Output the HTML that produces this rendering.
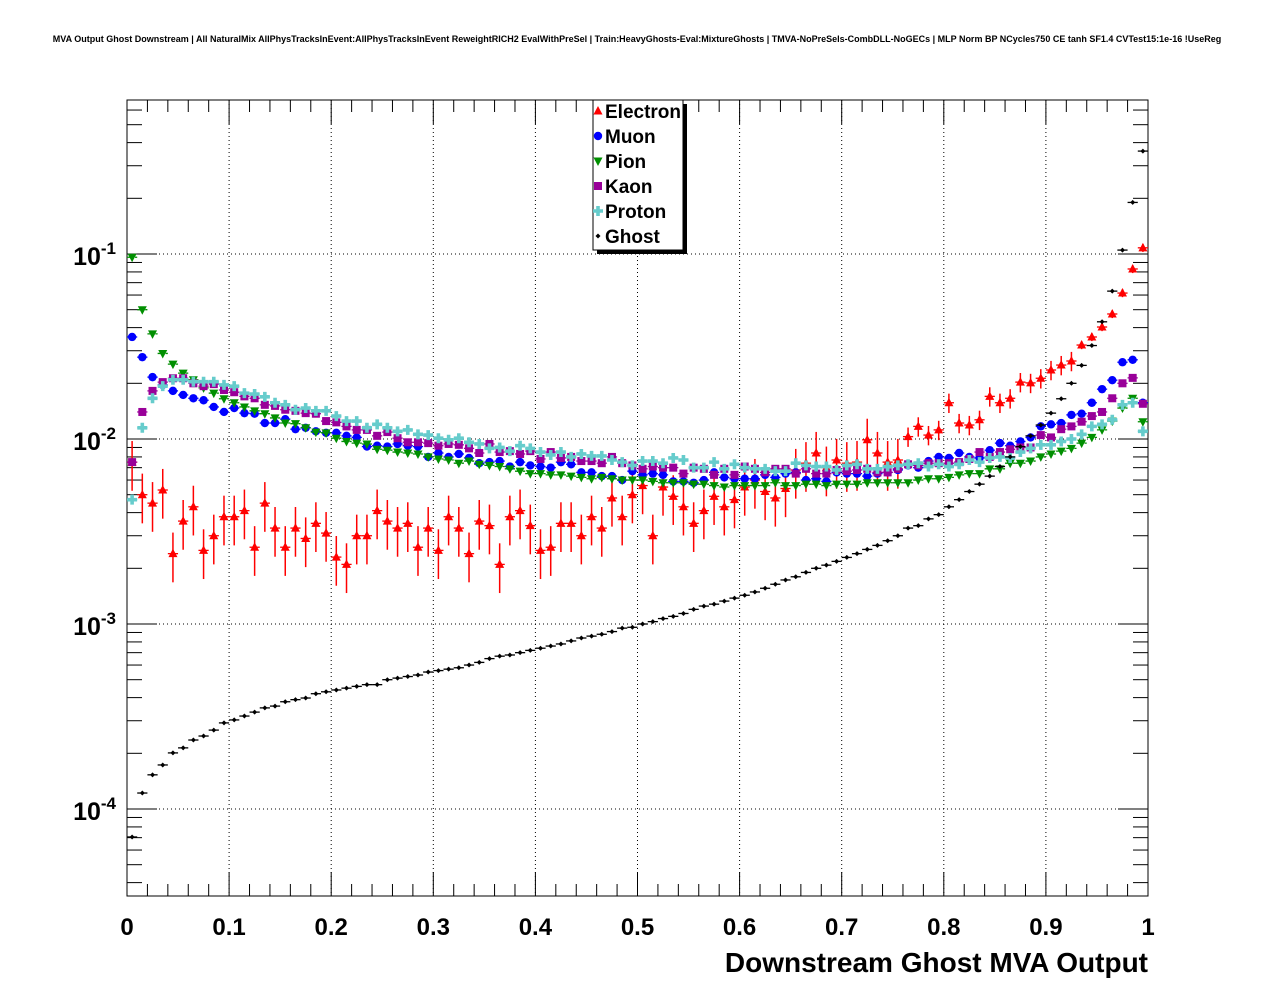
<!DOCTYPE html>
<html><head><meta charset="utf-8"><style>
body{margin:0;background:#fff}
svg text{font-family:"Liberation Sans",sans-serif;font-weight:bold}
</style></head><body>
<svg id="c" width="1276" height="996" xmlns="http://www.w3.org/2000/svg">
<text x="637" y="42" font-size="9.0" text-anchor="middle">MVA Output Ghost Downstream | All NaturalMix AllPhysTracksInEvent:AllPhysTracksInEvent ReweightRICH2 EvalWithPreSel | Train:HeavyGhosts-Eval:MixtureGhosts | TMVA-NoPreSels-CombDLL-NoGECs | MLP Norm BP NCycles750 CE tanh SF1.4 CVTest15:1e-16 !UseReg</text>
<rect x="127" y="100" width="1021" height="796" fill="none" stroke="#000" stroke-width="1"/>
<g id="grid"></g>
<g id="ticks"></g>
<g id="marks"></g>
<text x="1148" y="972" font-size="28" text-anchor="end">Downstream Ghost MVA Output</text>
<g>
<rect x="597" y="104" width="90" height="150" fill="#000"/>
<rect x="593" y="100" width="90" height="150" fill="#fff" stroke="#000"/>
<g id="leg"></g>
</g>
</svg>
<script>
const xTicks=["0","0.1","0.2","0.3","0.4","0.5","0.6","0.7","0.8","0.9","1"];
const yDecades=[-4,-3,-2,-1];
const electron=[0.0075,0.005,0.0045,0.0053,0.0024,0.0036,0.0043,0.0025,0.003,0.0038,0.0038,0.0041,0.0026,0.0045,0.0033,0.0026,0.0033,0.0029,0.0035,0.0031,0.0023,0.0021,0.003,0.003,0.0041,0.0036,0.0033,0.0035,0.0026,0.0033,0.0025,0.0038,0.0033,0.0024,0.0036,0.0034,0.0021,0.0038,0.0041,0.0034,0.0025,0.0026,0.0035,0.0035,0.003,0.0038,0.0033,0.0048,0.0038,0.005,0.0056,0.003,0.0055,0.0049,0.0043,0.0035,0.0041,0.0049,0.0043,0.0047,0.0055,0.006,0.0052,0.0048,0.0054,0.0068,0.0074,0.0084,0.007,0.0077,0.0074,0.0075,0.0099,0.0084,0.0075,0.0077,0.0103,0.0117,0.0105,0.0112,0.0157,0.0122,0.0119,0.0127,0.017,0.0157,0.0166,0.0203,0.0201,0.0213,0.0236,0.0251,0.0264,0.0322,0.0356,0.0403,0.0474,0.0615,0.083,0.108];
const muon=[0.0356,0.0277,0.0216,0.0196,0.0182,0.0173,0.0166,0.0162,0.0149,0.014,0.0147,0.0138,0.0137,0.0122,0.0122,0.0128,0.0113,0.0115,0.011,0.0108,0.0108,0.0104,0.0102,0.0091,0.0092,0.0091,0.0094,0.0092,0.0091,0.008,0.0084,0.008,0.0083,0.0079,0.0074,0.0075,0.0076,0.0071,0.0075,0.0072,0.0071,0.007,0.0075,0.0073,0.0066,0.0066,0.0063,0.0063,0.006,0.0067,0.0064,0.0065,0.0064,0.0059,0.0059,0.0058,0.006,0.0066,0.0062,0.0061,0.0061,0.0061,0.0064,0.0062,0.0065,0.0066,0.006,0.0061,0.0059,0.0066,0.0065,0.0065,0.0063,0.0065,0.0066,0.0068,0.0072,0.007,0.0076,0.008,0.0079,0.0084,0.008,0.0079,0.0087,0.0095,0.0092,0.0097,0.0102,0.0117,0.012,0.0122,0.0135,0.0137,0.0157,0.0186,0.0208,0.026,0.0268,0.0157];
const pion=[0.096,0.05,0.037,0.029,0.0254,0.0227,0.0209,0.0189,0.0177,0.0165,0.0157,0.0149,0.0142,0.0137,0.013,0.0122,0.0121,0.0115,0.0109,0.0108,0.0101,0.0097,0.0095,0.0094,0.0088,0.0087,0.0085,0.0084,0.0083,0.008,0.0078,0.0077,0.0074,0.0076,0.0073,0.0072,0.0071,0.0069,0.0067,0.0065,0.0065,0.0064,0.0064,0.0063,0.0062,0.0061,0.0062,0.0061,0.006,0.006,0.006,0.0059,0.0058,0.0058,0.0058,0.0057,0.0057,0.0056,0.0055,0.0056,0.0056,0.0056,0.0056,0.0058,0.0056,0.0056,0.0057,0.0057,0.0056,0.0057,0.0057,0.0057,0.0058,0.0058,0.0058,0.0058,0.0058,0.006,0.0061,0.0061,0.0062,0.0064,0.0065,0.0065,0.0069,0.0069,0.0074,0.0074,0.0076,0.008,0.0083,0.0086,0.0089,0.0095,0.0102,0.0112,0.0125,0.0147,0.0166,0.0124];
const kaon=[0.0075,0.014,0.0182,0.0203,0.0213,0.0213,0.02,0.0193,0.0198,0.0184,0.0179,0.017,0.0166,0.0153,0.0151,0.0144,0.0142,0.0138,0.0137,0.0125,0.0123,0.0117,0.0112,0.0112,0.0104,0.0109,0.0101,0.0096,0.0096,0.0095,0.0092,0.0094,0.0093,0.0089,0.0084,0.0094,0.0085,0.0086,0.0083,0.0086,0.0078,0.0085,0.0079,0.008,0.0076,0.0076,0.0074,0.008,0.0074,0.0072,0.0069,0.0071,0.007,0.007,0.0065,0.007,0.0069,0.0064,0.0069,0.0064,0.0071,0.0069,0.0066,0.0069,0.0069,0.0065,0.0069,0.0065,0.0065,0.0068,0.0067,0.0068,0.0069,0.0066,0.0066,0.0069,0.0073,0.0072,0.0074,0.0074,0.0074,0.0075,0.0078,0.0085,0.008,0.0085,0.0088,0.009,0.009,0.0105,0.0102,0.0113,0.0117,0.0124,0.0133,0.014,0.0166,0.02,0.0214,0.0155];
const proton=[0.0047,0.0115,0.0166,0.0193,0.0209,0.0209,0.0204,0.0204,0.0204,0.0196,0.0193,0.0177,0.0175,0.0169,0.0157,0.0153,0.0144,0.0147,0.0142,0.0142,0.0133,0.0125,0.0125,0.0115,0.012,0.0115,0.011,0.0112,0.0106,0.0105,0.0101,0.0099,0.0101,0.0096,0.0094,0.0089,0.009,0.0086,0.0092,0.0089,0.0085,0.0082,0.0085,0.008,0.0083,0.0081,0.0081,0.0077,0.0075,0.0072,0.0076,0.0076,0.0074,0.0079,0.0077,0.007,0.007,0.0075,0.0069,0.0073,0.007,0.0069,0.0069,0.0067,0.0067,0.0074,0.0072,0.0071,0.0071,0.0068,0.0072,0.0073,0.0069,0.0069,0.0071,0.0072,0.0073,0.0074,0.0071,0.0073,0.0071,0.0073,0.0077,0.0075,0.0079,0.008,0.0079,0.0085,0.0089,0.0093,0.0093,0.0097,0.01,0.0106,0.0117,0.012,0.0127,0.0153,0.0157,0.011];
const ghost=[7.06e-5,1.22e-4,1.53e-4,1.73e-4,2.01e-4,2.14e-4,2.36e-4,2.48e-4,2.67e-4,2.92e-4,3.03e-4,3.18e-4,3.34e-4,3.52e-4,3.6e-4,3.8e-4,3.9e-4,3.98e-4,4.2e-4,4.3e-4,4.4e-4,4.5e-4,4.6e-4,4.7e-4,4.7e-4,5.0e-4,5.1e-4,5.2e-4,5.3e-4,5.5e-4,5.6e-4,5.7e-4,5.8e-4,6.0e-4,6.2e-4,6.5e-4,6.7e-4,6.8e-4,7.0e-4,7.2e-4,7.4e-4,7.6e-4,7.8e-4,8.1e-4,8.4e-4,8.6e-4,8.8e-4,9.1e-4,9.5e-4,9.6e-4,1.0e-3,1.03e-3,1.07e-3,1.1e-3,1.14e-3,1.2e-3,1.25e-3,1.28e-3,1.33e-3,1.38e-3,1.43e-3,1.49e-3,1.56e-3,1.64e-3,1.73e-3,1.8e-3,1.9e-3,2.0e-3,2.08e-3,2.18e-3,2.29e-3,2.4e-3,2.53e-3,2.66e-3,2.82e-3,3.0e-3,3.3e-3,3.4e-3,3.7e-3,3.9e-3,4.3e-3,4.7e-3,5.2e-3,5.7e-3,6.3e-3,7.1e-3,8.0e-3,9.1e-3,1.04e-2,1.19e-2,1.38e-2,1.65e-2,2.0e-2,2.5e-2,3.2e-2,4.3e-2,6.3e-2,0.105,0.19,0.36];
const seriesNames=["Electron","Muon","Pion","Kaon","Proton","Ghost"];
const seriesData=[electron,muon,pion,kaon,proton,ghost];
const seriesColors=["#ff0000","#0000ff","#008f00","#990099","#66cccc","#000000"];
const shapes=["tri","circ","tridown","sq","cross","dot"];

const NS="http://www.w3.org/2000/svg";
const X0=127,X1=1148,YT=100,YB=896;
const xs=v=>X0+(X1-X0)*v;
const ys=v=>254-(Math.log10(v)+1)*185;
function mk(tag,attrs,parent){const e=document.createElementNS(NS,tag);for(const k in attrs)e.setAttribute(k,attrs[k]);parent.appendChild(e);return e;}
const grid=document.getElementById('grid'),ticks=document.getElementById('ticks'),marks=document.getElementById('marks');
const svg=document.getElementById('c');
xTicks.forEach((t,i)=>{const x=xs(i/10);
 if(i>0&&i<10){const l=mk('line',{x1:x,x2:x,y1:YT,y2:YB,stroke:'#000','stroke-dasharray':'1,3'},grid);}
 const tx=mk('text',{x:x,y:935,'font-size':24,'text-anchor':'middle'},svg);tx.textContent=t;
 
});
for(let i=0;i<=50;i++){const x=xs(i/50);const len=i%5==0?24:12;
 mk('line',{x1:x,x2:x,y1:YB,y2:YB-len,stroke:'#000'},ticks);mk('line',{x1:x,x2:x,y1:YT,y2:YT+len,stroke:'#000'},ticks);}
yDecades.forEach(d=>{const y=ys(Math.pow(10,d));
 const l=mk('line',{x1:X0,x2:X1,y1:y,y2:y,stroke:'#000','stroke-dasharray':'1,3'},grid);
 
 const tx=mk('text',{x:116,y:y+11,'font-size':25,'text-anchor':'end'},svg);
 
 tx.innerHTML='10<tspan dy="-11" font-size="17">'+d+'</tspan>';
});
for(let d=-5;d<=0;d++)for(let m=1;m<=9;m++){const y=ys(m*Math.pow(10,d));if(y<YT||y>YB)continue;const len=m==1?30:15;
 mk('line',{x1:X0,x2:X0+len,y1:y,y2:y,stroke:'#000'},ticks);mk('line',{x1:X1,x2:X1-len,y1:y,y2:y,stroke:'#000'},ticks);}
function marker(shape,x,y,c,g){
 if(shape=='tri')mk('polygon',{points:`${x},${y-5} ${x-4.5},${y+3.5} ${x+4.5},${y+3.5}`,fill:c},g);
 else if(shape=='tridown')mk('polygon',{points:`${x},${y+5} ${x-4.5},${y-3.5} ${x+4.5},${y-3.5}`,fill:c},g);
 else if(shape=='circ')mk('circle',{cx:x,cy:y,r:4.2,fill:c},g);
 else if(shape=='sq')mk('rect',{x:x-4,y:y-4,width:8,height:8,fill:c},g);
 else if(shape=='cross')mk('path',{d:`M${x-1.8},${y-5}h3.6v3.2h3.2v3.6h-3.2v3.2h-3.6v-3.2h-3.2v-3.6h3.2z`,fill:c},g);
 else mk('path',{d:`M${x},${y-2.5}L${x+2.5},${y}L${x},${y+2.5}L${x-2.5},${y}z`,fill:c},g);
}
const bw=(X1-X0)/100;
seriesData.forEach((arr,si)=>{
 const g=mk('g',{},marks);
 
 
 const c=seriesColors[si];
 arr.forEach((v,i)=>{const x=xs((i+0.5)/100),y=ys(v);
  if(y<YT||y>YB)return;
  mk('line',{x1:x-bw/2,x2:x+bw/2,y1:y,y2:y,stroke:c,'stroke-width':1.3,'stroke-dasharray':si==2?'3,1':'none'},g);
  if(si==0){const f=v<0.01?0.3:(v<0.03?0.12:0.05);
   mk('line',{x1:x,x2:x,y1:ys(v*(1+f)),y2:ys(v*(1-f)),stroke:c,'stroke-width':1.5},g);}
  marker(shapes[si],x,y,c,g);
 });
});
const leg=document.getElementById('leg');
seriesNames.forEach((n,i)=>{const y=111+i*25;
 const e=mk('g',{},leg);
 
 
 marker(shapes[i],598,y,seriesColors[i],e);
 const t=mk('text',{x:605,y:y+7,'font-size':19},e);t.textContent=n;
});
</script>
</body></html>
